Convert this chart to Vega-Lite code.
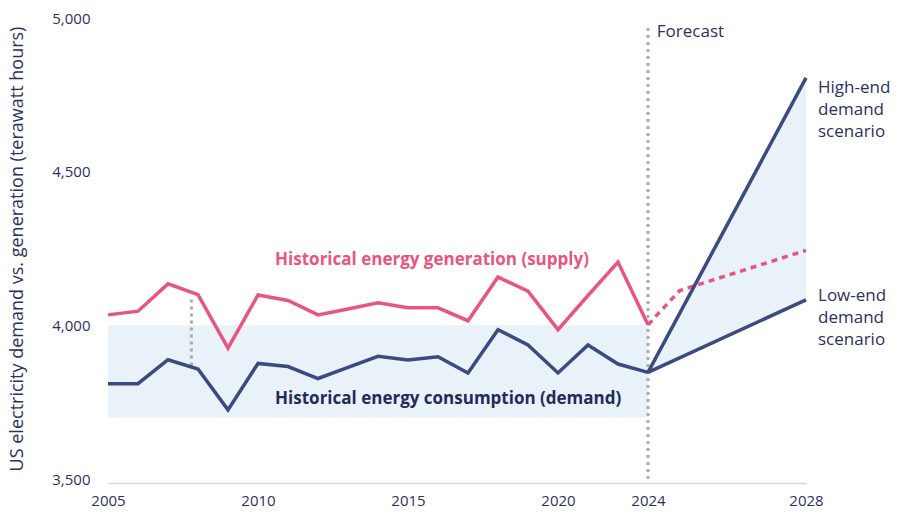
{
  "$schema": "https://vega.github.io/schema/vega-lite/v6.json",
  "width": 698,
  "height": 461,
  "autosize": {"type": "none"},
  "padding": {"left": 108, "top": 18, "right": 94, "bottom": 44},
  "background": "white",
  "config": {
    "view": {"stroke": null},
    "font": "Open Sans",
    "axis": {"grid": false, "ticks": false, "labelFont": "Open Sans", "titleFont": "Open Sans"}
  },
  "datasets": {
    "hist": [
      {"year": 2005, "supply": 4034, "demand": 3810},
      {"year": 2006, "supply": 4046, "demand": 3810},
      {"year": 2007, "supply": 4135, "demand": 3888},
      {"year": 2008, "supply": 4100, "demand": 3858},
      {"year": 2009, "supply": 3926, "demand": 3725},
      {"year": 2010, "supply": 4099, "demand": 3876},
      {"year": 2011, "supply": 4081, "demand": 3866},
      {"year": 2012, "supply": 4034, "demand": 3827},
      {"year": 2013, "supply": 4053, "demand": 3863},
      {"year": 2014, "supply": 4073, "demand": 3899},
      {"year": 2015, "supply": 4057, "demand": 3887},
      {"year": 2016, "supply": 4057, "demand": 3898},
      {"year": 2017, "supply": 4015, "demand": 3845},
      {"year": 2018, "supply": 4157, "demand": 3986},
      {"year": 2019, "supply": 4111, "demand": 3936},
      {"year": 2020, "supply": 3986, "demand": 3845},
      {"year": 2021, "supply": 4097, "demand": 3936},
      {"year": 2022, "supply": 4206, "demand": 3874},
      {"year": 2023, "supply": 4002, "demand": 3847}
    ],
    "fc": [
      {"year": 2023, "low": 3847, "high": 3847},
      {"year": 2028, "low": 4083, "high": 4805}
    ],
    "fcsupply": [
      {"year": 2023, "supply": 4002},
      {"year": 2024, "supply": 4113},
      {"year": 2028, "supply": 4244}
    ]
  },
  "encoding": {
    "x": {
      "type": "quantitative",
      "scale": {"domain": [2005, 2023, 2028], "range": [0, 540, 698], "nice": false, "zero": false},
      "axis": {
        "title": null,
        "values": [2005, 2010, 2015, 2020, 2023, 2028],
        "labelExpr": "datum.value == 2023 ? '2024' : datum.value + ''",
        "labelFlush": false,
        "labelFontSize": 15,
        "labelColor": "#2b3160",
        "labelPadding": 10,
        "offset": 4,
        "domainColor": "#d4d6e0",
        "domainWidth": 1.5
      }
    },
    "y": {
      "type": "quantitative",
      "scale": {"domain": [3500, 5000], "nice": false, "zero": false},
      "axis": {
        "title": "US electricity demand vs. generation (terawatt hours)",
        "values": [3500, 4000, 4500, 5000],
        "format": ",.0f",
        "domain": false,
        "labelFontSize": 15,
        "labelColor": "#2b3160",
        "labelPadding": 18,
        "titleFontSize": 18,
        "titleFontWeight": "normal",
        "titleColor": "#2b3160",
        "titlePadding": 25
      }
    }
  },
  "layer": [
    {
      "data": {"values": [{"x1": 2005, "x2": 2023, "y1": 3700, "y2": 4000}]},
      "mark": {"type": "rect", "color": "#e9f2f8"},
      "encoding": {
        "x": {"field": "x1", "type": "quantitative"},
        "x2": {"field": "x2"},
        "y": {"field": "y1", "type": "quantitative"},
        "y2": {"field": "y2"}
      }
    },
    {
      "data": {"name": "fc"},
      "mark": {"type": "area", "color": "#e9f2f8"},
      "encoding": {
        "x": {"field": "year", "type": "quantitative"},
        "y": {"field": "low", "type": "quantitative"},
        "y2": {"field": "high"}
      }
    },
    {
      "data": {"values": [{"x": 2023, "y1": 3500, "y2": 4980}]},
      "mark": {"type": "rule", "color": "#a9abb3", "strokeWidth": 3, "strokeDash": [3, 4]},
      "encoding": {
        "x": {"field": "x", "type": "quantitative"},
        "y": {"field": "y1", "type": "quantitative"},
        "y2": {"field": "y2"}
      }
    },
    {
      "data": {"values": [{"x": 2007.78, "y1": 3869, "y2": 4083}]},
      "mark": {"type": "rule", "color": "#a9abb3", "strokeWidth": 3, "strokeDash": [3, 4]},
      "encoding": {
        "x": {"field": "x", "type": "quantitative"},
        "y": {"field": "y1", "type": "quantitative"},
        "y2": {"field": "y2"}
      }
    },
    {
      "data": {"name": "hist"},
      "mark": {"type": "line", "color": "#e8557e", "strokeWidth": 3.5, "strokeJoin": "miter"},
      "encoding": {
        "x": {"field": "year", "type": "quantitative"},
        "y": {"field": "supply", "type": "quantitative"}
      }
    },
    {
      "data": {"name": "fcsupply"},
      "mark": {"type": "line", "color": "#e8557e", "strokeWidth": 3.5, "strokeDash": [6, 5]},
      "encoding": {
        "x": {"field": "year", "type": "quantitative"},
        "y": {"field": "supply", "type": "quantitative"}
      }
    },
    {
      "data": {"name": "hist"},
      "mark": {"type": "line", "color": "#3b4a80", "strokeWidth": 3.5, "strokeJoin": "miter"},
      "encoding": {
        "x": {"field": "year", "type": "quantitative"},
        "y": {"field": "demand", "type": "quantitative"}
      }
    },
    {
      "data": {"name": "fc"},
      "mark": {"type": "line", "color": "#3b4a80", "strokeWidth": 3.5},
      "encoding": {
        "x": {"field": "year", "type": "quantitative"},
        "y": {"field": "high", "type": "quantitative"}
      }
    },
    {
      "data": {"name": "fc"},
      "mark": {"type": "line", "color": "#3b4a80", "strokeWidth": 3.5},
      "encoding": {
        "x": {"field": "year", "type": "quantitative"},
        "y": {"field": "low", "type": "quantitative"}
      }
    },
    {
      "data": {"values": [
        {"x": 2010.57, "y": 4214, "label": "Historical energy generation (supply)", "kind": "supply"},
        {"x": 2010.57, "y": 3761, "label": "Historical energy consumption (demand)", "kind": "demand"}
      ]},
      "mark": {"type": "text", "align": "left", "baseline": "middle", "fontSize": 17, "fontWeight": "bold"},
      "encoding": {
        "x": {"field": "x", "type": "quantitative"},
        "y": {"field": "y", "type": "quantitative"},
        "text": {"field": "label"},
        "color": {"field": "kind", "type": "nominal", "scale": {"domain": ["supply", "demand"], "range": ["#e8557e", "#232a5c"]}, "legend": null}
      }
    },
    {
      "data": {"values": [
        {"x": 2023.28, "y": 4954, "label": "Forecast"}
      ]},
      "mark": {"type": "text", "align": "left", "baseline": "middle", "fontSize": 17, "color": "#2b3160"},
      "encoding": {
        "x": {"field": "x", "type": "quantitative"},
        "y": {"field": "y", "type": "quantitative"},
        "text": {"field": "label"}
      }
    },
    {
      "data": {"values": [
        {"x": 2028.38, "y": 4798, "label": ["High-end", "demand", "scenario"]},
        {"x": 2028.38, "y": 4120, "label": ["Low-end", "demand", "scenario"]}
      ]},
      "mark": {"type": "text", "align": "left", "baseline": "top", "fontSize": 17, "lineHeight": 22, "color": "#2b3160"},
      "encoding": {
        "x": {"field": "x", "type": "quantitative"},
        "y": {"field": "y", "type": "quantitative"},
        "text": {"field": "label"}
      }
    }
  ]
}
